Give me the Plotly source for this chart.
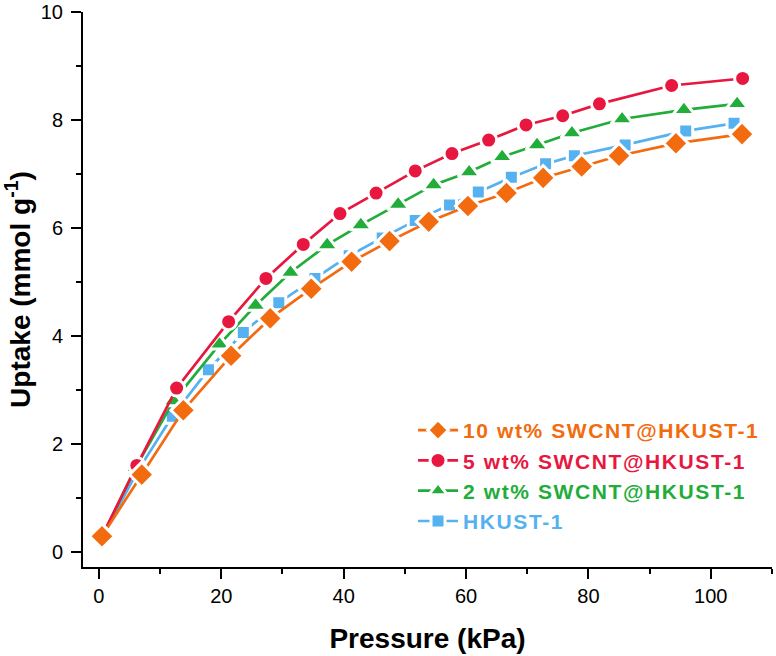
import plotly.graph_objects as go

# Data
p_hkust = [0.5, 6.3, 12.0, 17.9, 23.6, 29.4, 35.3, 40.9, 46.3, 51.7, 57.3, 62.0, 67.4, 73.0, 77.7, 86.0, 95.9, 103.8]
u_hkust = [0.28, 1.50, 2.52, 3.38, 4.07, 4.62, 5.07, 5.49, 5.82, 6.14, 6.43, 6.67, 6.94, 7.19, 7.34, 7.54, 7.80, 7.94]

p_2wt = [0.5, 6.0, 12.2, 19.7, 25.6, 31.3, 37.3, 42.8, 48.9, 54.7, 60.5, 65.9, 71.6, 77.3, 85.5, 95.6, 104.3]
u_2wt = [0.28, 1.57, 2.80, 3.85, 4.57, 5.18, 5.69, 6.06, 6.44, 6.80, 7.04, 7.32, 7.54, 7.76, 8.02, 8.19, 8.30]

p_5wt = [0.5, 6.2, 12.7, 21.2, 27.3, 33.4, 39.4, 45.3, 51.7, 57.7, 63.7, 69.8, 75.8, 81.8, 93.6, 105.2]
u_5wt = [0.30, 1.61, 3.04, 4.27, 5.07, 5.70, 6.27, 6.65, 7.06, 7.38, 7.63, 7.91, 8.08, 8.30, 8.64, 8.77]

p_10wt = [0.5, 7.0, 13.8, 21.6, 28.0, 34.7, 41.3, 47.5, 53.9, 60.3, 66.6, 72.6, 78.9, 85.0, 94.3, 105.1]
u_10wt = [0.30, 1.44, 2.63, 3.64, 4.33, 4.88, 5.38, 5.76, 6.12, 6.41, 6.65, 6.93, 7.14, 7.34, 7.57, 7.74]

series = [
    ("HKUST-1", p_hkust, u_hkust, "#55B1F0", "square", 14),
    ("2 wt% SWCNT@HKUST-1", p_2wt, u_2wt, "#22AD3A", "triangle-up", 19),
    ("5 wt% SWCNT@HKUST-1", p_5wt, u_5wt, "#E8173F", "circle", 16),
    ("10 wt% SWCNT@HKUST-1", p_10wt, u_10wt, "#F26B0F", "diamond", 19),
]

fig = go.Figure()
for name, xs, ys, color, sym, size in series:
    fig.add_trace(go.Scatter(
        x=xs, y=ys, mode="lines+markers",
        name=f"<span style='color:{color};letter-spacing:1.6px'><b>{name}</b></span>",
        line=dict(color=color, width=2.7),
        marker=dict(symbol=sym, size=size, color=color,
                    line=dict(color="white", width=3)),
    ))

font_family = "Liberation Sans, Arial, sans-serif"

fig.update_layout(
    width=776, height=656,
    margin=dict(l=83, r=4, t=12, b=89, autoexpand=False),
    paper_bgcolor="white", plot_bgcolor="white",
    font=dict(family=font_family, color="black"),
    showlegend=True,
    legend=dict(
        x=0.479, y=0.283, xanchor="left", yanchor="top",
        traceorder="reversed",
        font=dict(family=font_family, size=21),
        bgcolor="rgba(0,0,0,0)",
        itemwidth=40,
        tracegroupgap=0,
    ),
    xaxis=dict(
        range=[-2.6, 110], showgrid=False, zeroline=False,
        showline=True, linecolor="black", linewidth=2,
        ticks="outside", ticklen=10, tickwidth=2, tickcolor="black",
        tickvals=[0, 20, 40, 60, 80, 100],
        minor=dict(tickvals=[10, 30, 50, 70, 90, 110], ticks="outside",
                   ticklen=5, tickwidth=2, tickcolor="black"),
        tickfont=dict(size=20, family=font_family),
        title=dict(text="<b>Pressure (kPa)</b>",
                   font=dict(size=28, family=font_family), standoff=22),
    ),
    yaxis=dict(
        range=[-0.27, 10], showgrid=False, zeroline=False,
        showline=True, linecolor="black", linewidth=2,
        ticks="outside", ticklen=10, tickwidth=2, tickcolor="black",
        tickvals=[0, 2, 4, 6, 8, 10],
        minor=dict(tickvals=[1, 3, 5, 7, 9], ticks="outside",
                   ticklen=5, tickwidth=2, tickcolor="black"),
        tickfont=dict(size=20, family=font_family),
        ticklabelstandoff=4,
        title=dict(text="<b>Uptake (mmol g<sup>-1</sup>)</b>",
                   font=dict(size=28, family=font_family), standoff=4),
    ),
)

fig.write_html("out.html", config={"displayModeBar": False})

# Remove the browser's default 8px page margin so the figure sits at (0, 0)
with open("out.html", "r", encoding="utf-8") as f:
    html = f.read()
html = html.replace("<head>", "<head><style>html,body{margin:0;padding:0;overflow:hidden}</style>", 1)
with open("out.html", "w", encoding="utf-8") as f:
    f.write(html)
